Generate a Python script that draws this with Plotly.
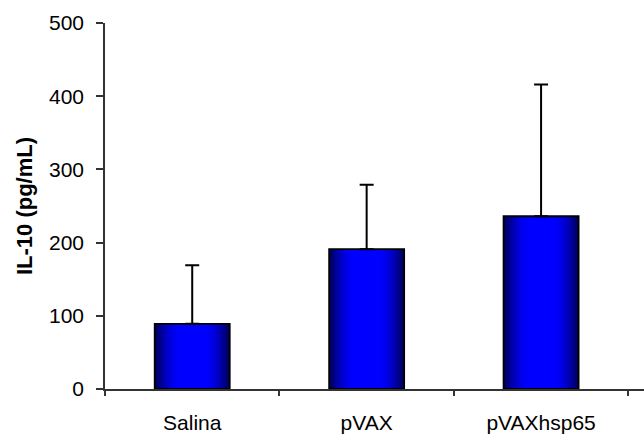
import math
import plotly.graph_objects as go

# IL-10 levels per group (pg/mL), mean and upper error
groups = ["Salina", "pVAX", "pVAXhsp65"]
il10_mean = [89, 191, 236]
il10_err = [80, 88, 180]

y_ticks = [0, 100, 200, 300, 400, 500]

BAR_WIDTH = 0.43
N_LAYERS = 30

fig = go.Figure()

# Shaded bars: stack of progressively narrower bars, dark navy at the
# edges brightening to pure blue in the middle.
for k in range(N_LAYERS):
    t = k / (N_LAYERS - 1)
    w = BAR_WIDTH * (1 - k / N_LAYERS)
    f = math.sin(math.pi / 2 * min(1.0, t * 1.4))
    b = int(round(90 + 165 * f))
    fig.add_trace(go.Bar(
        x=groups,
        y=il10_mean,
        width=w,
        marker=dict(color=f"rgb(0,0,{b})", line=dict(width=0)),
        hoverinfo="skip",
        showlegend=False,
    ))

# Outline and upper error bars
fig.add_trace(go.Bar(
    x=groups,
    y=il10_mean,
    width=BAR_WIDTH,
    marker=dict(color="rgba(0,0,0,0)", line=dict(color="black", width=1.8)),
    error_y=dict(
        type="data",
        symmetric=False,
        array=il10_err,
        arrayminus=[0, 0, 0],
        color="black",
        thickness=2,
        width=7,
    ),
    showlegend=False,
))

fig.update_layout(
    width=644,
    height=442,
    margin=dict(l=105, r=0, t=23, b=53),
    barmode="overlay",
    paper_bgcolor="white",
    plot_bgcolor="white",
    font=dict(family="Liberation Sans, Arial, sans-serif", size=21, color="black"),
    showlegend=False,
)

fig.update_xaxes(
    type="category",
    range=[-0.5, 2.59],
    showline=True,
    linecolor="#333333",
    linewidth=1.5,
    ticks="outside",
    tickson="boundaries",
    ticklen=5,
    tickcolor="#333333",
    tickwidth=1.5,
    showgrid=False,
    zeroline=False,
    tickfont=dict(size=21),
    ticklabelstandoff=14,
)

fig.update_yaxes(
    range=[0, 500],
    tickvals=y_ticks,
    ticktext=[str(v) for v in y_ticks],
    showline=True,
    linecolor="#333333",
    linewidth=1.5,
    ticks="outside",
    ticklen=7,
    tickcolor="#333333",
    tickwidth=1.5,
    showgrid=False,
    zeroline=False,
    tickfont=dict(size=21),
    ticklabelstandoff=8,
    title=dict(text="<b>IL-10 (pg/mL)</b>", font=dict(size=22), standoff=10),
)

fig.write_html("out.html")
